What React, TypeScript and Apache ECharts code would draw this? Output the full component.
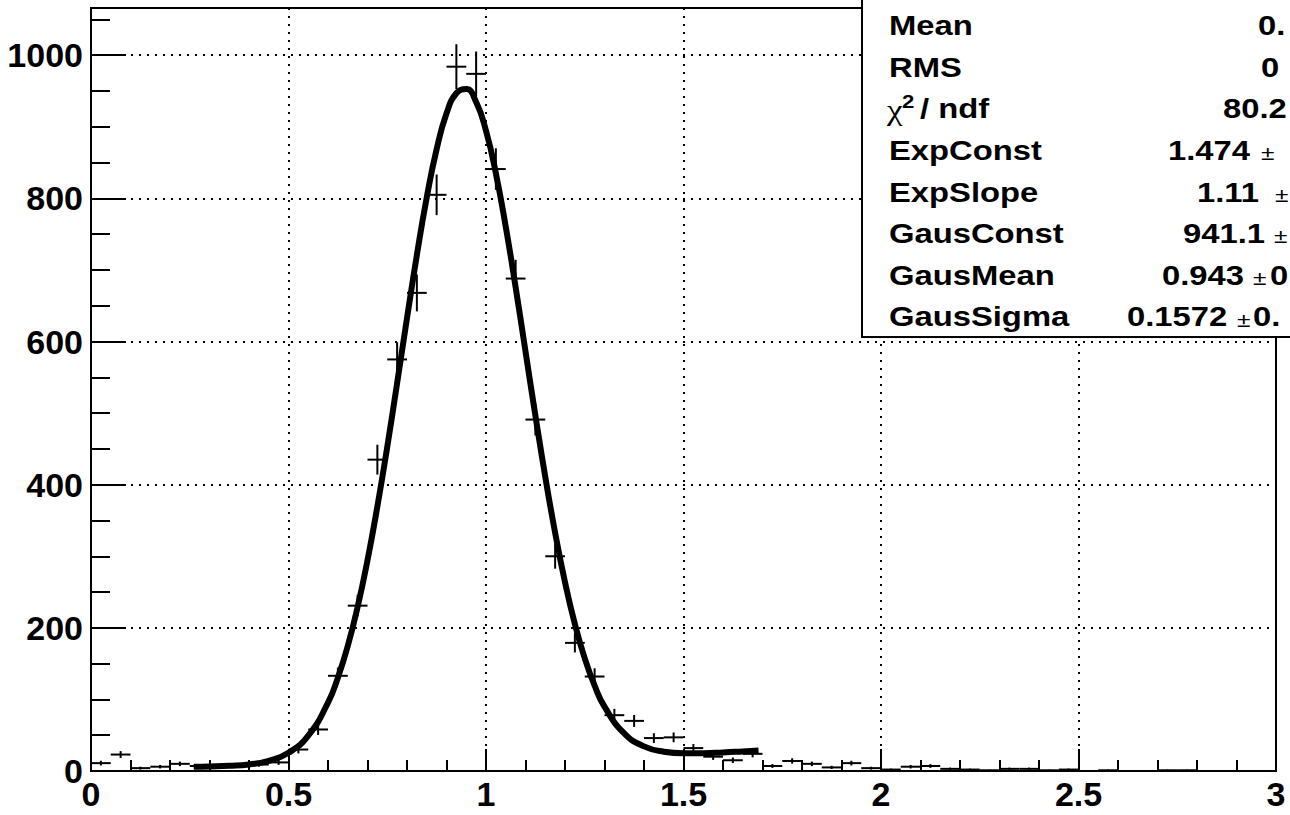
import React, { useEffect, useRef } from "react";
import * as echarts from "echarts";

// ---- Histogram data (bin width 0.05, range 0..3) ----
const binLow = 0;
const binWidth = 0.05;
const counts = [
  11, 23, 4, 6, 10, 7, 6, 7, 9, 12,
  30, 58, 133, 231, 435, 575, 668, 805, 984, 974,
  841, 688, 491, 300, 179, 132, 78, 70, 46, 47,
  32, 20, 15, 24, 7, 14, 10, 5, 11, 4,
  2, 6, 7, 3, 2, 1, 3, 3, 1, 2,
  0, 1, 0, 0, 1, 1, 0, 0, 0, 0,
];

// ---- Fit curve ----
const curveX = [
  0.26, 0.3, 0.35, 0.4, 0.45, 0.5, 0.55, 0.6, 0.625, 0.65, 0.675, 0.7, 0.725, 0.75, 0.775, 0.8,
  0.825, 0.85, 0.875, 0.9, 0.925, 0.95, 0.975, 1.0, 1.025, 1.05, 1.075, 1.1, 1.125, 1.15,
  1.175, 1.2, 1.225, 1.25, 1.275, 1.3, 1.35, 1.4, 1.45, 1.5, 1.55, 1.6, 1.65, 1.69,
];
const curveY = [
  5.9, 6.3, 7.2, 9.2, 14.1, 25.4, 49.4, 95.5, 130.4, 174.7, 229.2, 294.4, 369.6, 452.8, 541.9, 632.7,
  721.0, 801.3, 868.6, 918.5, 946.9, 952.7, 934.7, 894.5, 835.0, 760.5, 675.9, 586.3, 496.7, 411.2,
  332.9, 263.9, 205.3, 157.3, 119.2, 89.9, 52.5, 34.4, 27.0, 24.9, 24.9, 25.9, 27.3, 28.5,
];

// ---- Axis settings ----
const xMin = 0;
const xMax = 3;
const xInterval = 0.5;
const yMin = 0;
const yMax = 1066;
const yInterval = 200;
const yMinorInterval = 50;

// ---- Stats box ----
const statNames = ["Mean", "RMS", "", "ExpConst", "ExpSlope", "GausConst", "GausMean", "GausSigma"];
const statValues = ["0.", "0", "80.2", "1.474", "1.11", "941.1", "0.943", "0.1572"];

export default function App() {
  const ref = useRef<HTMLDivElement>(null);

  useEffect(() => {
    document.body.style.margin = "0";
    if (!ref.current) return;
    const chart = echarts.init(ref.current, undefined, { renderer: "svg" });

    const histData = counts
      .map((c, i) => [binLow + binWidth * (i + 0.5), c])
      .filter((d) => d[1] > 0);
    const curveData = curveX.map((x, i) => [x, curveY[i]]);

    const font = "Liberation Sans, Arial, Helvetica, sans-serif";
    const labelStyle = {
      fontSize: 34,
      fontWeight: "bold" as const,
      fontFamily: font,
      color: "#000",
    };
    const black2 = { color: "#000", width: 2 };

    const rowY = [25, 66.6, 108.2, 149.8, 191.4, 233, 274.6, 316.2];
    const valueX = [1258, 1261, 1223, 1168, 1197, 1183, 1162, 1127];
    const sx = 1.17;
    const txt = (
      text: string,
      x: number,
      y: number,
      size = 28,
      weight = "bold",
      family = font
    ) => ({
      type: "text",
      x,
      y,
      scaleX: sx,
      z: 101,
      style: {
        text,
        fontSize: size,
        fontWeight: weight,
        fontFamily: family,
        fill: "#000",
        align: "left",
        verticalAlign: "middle",
      },
    });

    const graphics: any[] = [
      {
        type: "rect",
        z: 100,
        shape: { x: 862, y: -10, width: 460, height: 347 },
        style: { fill: "#fff", stroke: "#000", lineWidth: 2 },
      },
    ];
    statNames.forEach((n, i) => {
      if (n) graphics.push(txt(n, 889, rowY[i]));
    });
    // chi2 / ndf label
    graphics.push(txt("χ", 887, rowY[2] + 2, 30, "normal", "Liberation Serif, DejaVu Serif, serif"));
    graphics.push(txt("2", 902, rowY[2] - 7, 19));
    graphics.push(txt("/ ndf", 920, rowY[2]));
    statValues.forEach((v, i) => graphics.push(txt(v, valueX[i], rowY[i])));
    // plus-minus signs and trailing parts
    const pm = (x: number, y: number) => txt("±", x, y + 3, 21, "normal");
    graphics.push(pm(1261, rowY[3]));
    graphics.push(pm(1275, rowY[4]));
    graphics.push(pm(1274, rowY[5]));
    graphics.push(pm(1253, rowY[6]));
    graphics.push(txt("0", 1270, rowY[6]));
    graphics.push(pm(1237, rowY[7]));
    graphics.push(txt("0.", 1253, rowY[7]));

    chart.setOption({
      animation: false,
      backgroundColor: "#fff",
      grid: {
        left: 91,
        top: 8,
        width: 1185,
        height: 763,
        show: true,
        borderColor: "#000",
        borderWidth: 2,
        backgroundColor: "transparent",
      },
      xAxis: {
        type: "value",
        min: xMin,
        max: xMax,
        interval: xInterval,
        axisLine: { show: true, lineStyle: black2 },
        axisTick: { show: true, inside: true, length: 22, lineStyle: black2 },
        minorTick: { show: true, splitNumber: 5, length: 11, lineStyle: black2 },
        axisLabel: { ...labelStyle, margin: 6, formatter: (v: number) => String(v) },
        splitLine: { show: true, lineStyle: { color: "#000", width: 2, type: [2, 6] } },
      },
      yAxis: [
        {
          type: "value",
          min: yMin,
          max: yMax,
          interval: yInterval,
          axisLine: { show: true, lineStyle: black2 },
          axisTick: { show: true, inside: true, length: 35, lineStyle: black2 },
          axisLabel: {
            ...labelStyle,
            margin: 8,
            showMaxLabel: false,
            formatter: (v: number) => String(v),
          },
          splitLine: { show: true, lineStyle: { color: "#000", width: 2, type: [2, 6] } },
        },
        {
          type: "value",
          min: yMin,
          max: yMax,
          interval: yMinorInterval,
          position: "left",
          offset: 0,
          axisLine: { show: true, lineStyle: black2 },
          axisTick: { show: true, inside: true, length: 19, lineStyle: black2 },
          axisLabel: { show: false },
          splitLine: { show: false },
        },
      ],
      series: [
        {
          type: "custom",
          xAxisIndex: 0,
          yAxisIndex: 0,
          clip: true,
          encode: { x: 0, y: 1 },
          data: histData,
          z: 3,
          renderItem: (params: any, api: any) => {
            const c = api.value(0);
            const v = api.value(1);
            const err = Math.sqrt(v);
            const l = api.coord([c - binWidth / 2, v]);
            const r = api.coord([c + binWidth / 2, v]);
            const t = api.coord([c, v + err]);
            const b = api.coord([c, v - err]);
            const st = { stroke: "#000", lineWidth: 2 };
            return {
              type: "group",
              children: [
                { type: "line", shape: { x1: l[0], y1: l[1], x2: r[0], y2: r[1] }, style: st },
                { type: "line", shape: { x1: t[0], y1: t[1], x2: b[0], y2: b[1] }, style: st },
              ],
            };
          },
        },
        {
          type: "line",
          xAxisIndex: 0,
          yAxisIndex: 0,
          data: curveData,
          smooth: 0.5,
          showSymbol: false,
          symbol: "none",
          clip: true,
          z: 5,
          lineStyle: { color: "#000", width: 6 },
        },
      ],
      graphic: graphics,
    });

    return () => chart.dispose();
  }, []);

  return <div ref={ref} style={{ width: 1290, height: 815 }} />;
}
